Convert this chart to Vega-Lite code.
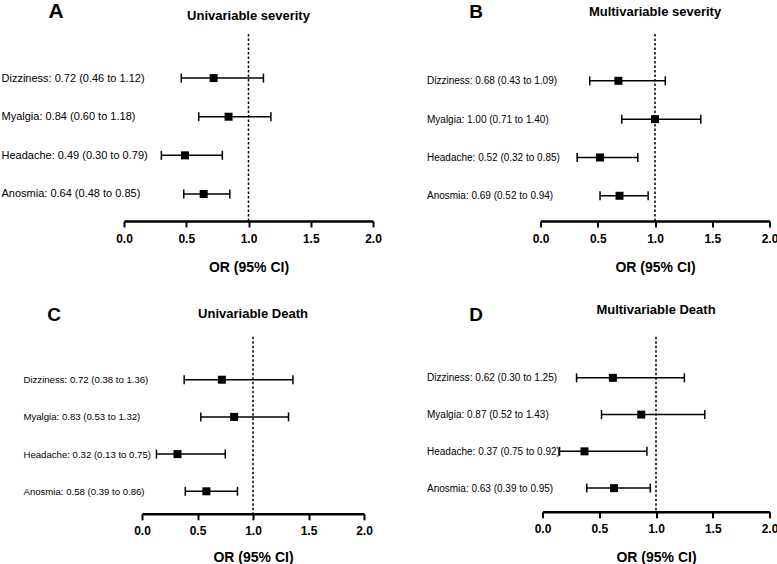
{
  "$schema": "https://vega.github.io/schema/vega-lite/v6.json",
  "padding": {"left": 1, "top": 0, "right": 0, "bottom": 0},
  "background": "white",
  "datasets": {
    "A": [
      {"label": "Dizziness: 0.72 (0.46 to 1.12)", "or": 0.72, "lo": 0.46, "hi": 1.12},
      {"label": "Myalgia: 0.84 (0.60 to 1.18)", "or": 0.84, "lo": 0.60, "hi": 1.18},
      {"label": "Headache: 0.49 (0.30 to 0.79)", "or": 0.49, "lo": 0.30, "hi": 0.79},
      {"label": "Anosmia: 0.64 (0.48 to 0.85)", "or": 0.64, "lo": 0.48, "hi": 0.85}
    ],
    "B": [
      {"label": "Dizziness: 0.68 (0.43 to 1.09)", "or": 0.68, "lo": 0.43, "hi": 1.09},
      {"label": "Myalgia: 1.00 (0.71 to 1.40)", "or": 1.00, "lo": 0.71, "hi": 1.40},
      {"label": "Headache: 0.52 (0.32 to 0.85)", "or": 0.52, "lo": 0.32, "hi": 0.85},
      {"label": "Anosmia: 0.69 (0.52 to 0.94)", "or": 0.69, "lo": 0.52, "hi": 0.94}
    ],
    "C": [
      {"label": "Dizziness: 0.72 (0.38 to 1.36)", "or": 0.72, "lo": 0.38, "hi": 1.36},
      {"label": "Myalgia: 0.83 (0.53 to 1.32)", "or": 0.83, "lo": 0.53, "hi": 1.32},
      {"label": "Headache: 0.32 (0.13 to 0.75)", "or": 0.32, "lo": 0.13, "hi": 0.75},
      {"label": "Anosmia: 0.58 (0.39 to 0.86)", "or": 0.58, "lo": 0.39, "hi": 0.86}
    ],
    "D": [
      {"label": "Dizziness: 0.62 (0.30 to 1.25)", "or": 0.62, "lo": 0.30, "hi": 1.25},
      {"label": "Myalgia: 0.87 (0.52 to 1.43)", "or": 0.87, "lo": 0.52, "hi": 1.43},
      {"label": "Headache: 0.37 (0.75 to 0.92)", "or": 0.37, "lo": 0.15, "hi": 0.92},
      {"label": "Anosmia: 0.63 (0.39 to 0.95)", "or": 0.63, "lo": 0.39, "hi": 0.95}
    ]
  },
  "config": {
    "view": {"stroke": null},
    "font": "Liberation Sans",
    "title": {"font": "Liberation Sans", "fontSize": 13, "fontWeight": "bold", "color": "black", "baseline": "alphabetic", "anchor": "middle", "frame": "group"},
    "axisX": {
      "grid": false,
      "domainColor": "black", "domainWidth": 2.5, "tickColor": "black", "tickWidth": 2, "tickSize": 6,
      "labelFont": "Liberation Sans", "labelFontSize": 12, "labelFontWeight": "bold", "labelColor": "black", "labelPadding": 6, "labelFlush": false,
      "titleFont": "Liberation Sans", "titleFontSize": 14, "titleFontWeight": "bold", "titleColor": "black", "titlePadding": 16
    },
    "axisY": {
      "domain": false, "ticks": false, "tickSize": 0, "grid": false,
      "labelAlign": "left", "labelBaseline": "middle", "labelColor": "black", "labelFont": "Liberation Sans", "labelLimit": 0,
      "titleAngle": 0, "titleAlign": "center", "titleBaseline": "alphabetic", "titleFont": "Liberation Sans", "titleFontWeight": "bold", "titleColor": "black"
    }
  },
  "spacing": 28.8,
  "vconcat": [
    {
      "spacing": 44.5,
      "hconcat": [
        {
          "width": 249, "height": 187,
          "title": {"text": "Univariable severity", "offset": -22.0},
          "layer": [
            {"data": {"values": [{"ref": 1}]}, "mark": {"type": "rule", "color": "black", "strokeWidth": 1.5, "strokeDash": [2.5, 2]},
             "encoding": {"x": {"field": "ref", "type": "quantitative", "title": "OR (95% CI)", "scale": {"domain": [0, 2], "nice": false, "zero": false},
               "axis": {"values": [0, 0.5, 1, 1.5, 2], "format": ".1f"}}}},
            {"data": {"name": "A"}, "mark": {"type": "rule", "color": "black", "strokeWidth": 1.5},
             "encoding": {"x": {"field": "lo", "type": "quantitative", "title": "OR (95% CI)"}, "x2": {"field": "hi"},
               "y": {"field": "label", "type": "nominal", "sort": null, "title": "A", "scale": {"type": "point", "padding": 0.92, "align": 0.62},
                 "axis": {"labelPadding": 123, "labelFontSize": 11, "titleFontSize": 21, "titleX": -68.5, "titleY": -16.5}}}},
            {"data": {"name": "A"}, "mark": {"type": "tick", "color": "black", "size": 9, "thickness": 1.5, "opacity": 1},
             "encoding": {"x": {"field": "lo", "type": "quantitative", "title": "OR (95% CI)"}, "y": {"field": "label", "type": "nominal", "sort": null, "title": "A"}}},
            {"data": {"name": "A"}, "mark": {"type": "tick", "color": "black", "size": 9, "thickness": 1.5, "opacity": 1},
             "encoding": {"x": {"field": "hi", "type": "quantitative", "title": "OR (95% CI)"}, "y": {"field": "label", "type": "nominal", "sort": null, "title": "A"}}},
            {"data": {"name": "A"}, "mark": {"type": "square", "color": "black", "size": 64, "filled": true, "opacity": 1},
             "encoding": {"x": {"field": "or", "type": "quantitative", "title": "OR (95% CI)"}, "y": {"field": "label", "type": "nominal", "sort": null, "title": "A"}}}
          ]
        },
        {
          "width": 229, "height": 187,
          "title": {"text": "Multivariable severity", "offset": -16.4},
          "layer": [
            {"data": {"values": [{"ref": 1}]}, "mark": {"type": "rule", "color": "black", "strokeWidth": 1.5, "strokeDash": [2.5, 2]},
             "encoding": {"x": {"field": "ref", "type": "quantitative", "title": "OR (95% CI)", "scale": {"domain": [0, 2], "nice": false, "zero": false},
               "axis": {"values": [0, 0.5, 1, 1.5, 2], "format": ".1f"}}}},
            {"data": {"name": "B"}, "mark": {"type": "rule", "color": "black", "strokeWidth": 1.5},
             "encoding": {"x": {"field": "lo", "type": "quantitative", "title": "OR (95% CI)"}, "x2": {"field": "hi"},
               "y": {"field": "label", "type": "nominal", "sort": null, "title": "B", "scale": {"type": "point", "padding": 0.94, "align": 0.65},
                 "axis": {"labelPadding": 114, "labelFontSize": 10, "titleFontSize": 19, "titleX": -65, "titleY": -16.5}}}},
            {"data": {"name": "B"}, "mark": {"type": "tick", "color": "black", "size": 9, "thickness": 1.5, "opacity": 1},
             "encoding": {"x": {"field": "lo", "type": "quantitative", "title": "OR (95% CI)"}, "y": {"field": "label", "type": "nominal", "sort": null, "title": "B"}}},
            {"data": {"name": "B"}, "mark": {"type": "tick", "color": "black", "size": 9, "thickness": 1.5, "opacity": 1},
             "encoding": {"x": {"field": "hi", "type": "quantitative", "title": "OR (95% CI)"}, "y": {"field": "label", "type": "nominal", "sort": null, "title": "B"}}},
            {"data": {"name": "B"}, "mark": {"type": "square", "color": "black", "size": 64, "filled": true, "opacity": 1},
             "encoding": {"x": {"field": "or", "type": "quantitative", "title": "OR (95% CI)"}, "y": {"field": "label", "type": "nominal", "sort": null, "title": "B"}}}
          ]
        }
      ]
    },
    {
      "spacing": 53.5,
      "hconcat": [
        {
          "width": 240, "height": 177,
          "title": {"text": "Univariable Death", "offset": -15.9, "dx": 9},
          "layer": [
            {"data": {"values": [{"ref": 1}]}, "mark": {"type": "rule", "color": "black", "strokeWidth": 1.5, "strokeDash": [2.5, 2]},
             "encoding": {"x": {"field": "ref", "type": "quantitative", "title": "OR (95% CI)", "scale": {"domain": [0, 2], "range": [18, 240], "nice": false, "zero": false},
               "axis": {"values": [0, 0.5, 1, 1.5, 2], "format": ".1f", "titlePadding": 14}}}},
            {"data": {"name": "C"}, "mark": {"type": "rule", "color": "black", "strokeWidth": 1.5},
             "encoding": {"x": {"field": "lo", "type": "quantitative", "title": "OR (95% CI)"}, "x2": {"field": "hi"},
               "y": {"field": "label", "type": "nominal", "sort": null, "title": "C", "scale": {"type": "point", "padding": 0.88, "align": 0.656},
                 "axis": {"labelPadding": 101, "labelFontSize": 9.6, "titleFontSize": 19, "titleX": -70.5, "titleY": -16.5}}}},
            {"data": {"name": "C"}, "mark": {"type": "tick", "color": "black", "size": 9, "thickness": 1.5, "opacity": 1},
             "encoding": {"x": {"field": "lo", "type": "quantitative", "title": "OR (95% CI)"}, "y": {"field": "label", "type": "nominal", "sort": null, "title": "C"}}},
            {"data": {"name": "C"}, "mark": {"type": "tick", "color": "black", "size": 9, "thickness": 1.5, "opacity": 1},
             "encoding": {"x": {"field": "hi", "type": "quantitative", "title": "OR (95% CI)"}, "y": {"field": "label", "type": "nominal", "sort": null, "title": "C"}}},
            {"data": {"name": "C"}, "mark": {"type": "square", "color": "black", "size": 64, "filled": true, "opacity": 1},
             "encoding": {"x": {"field": "or", "type": "quantitative", "title": "OR (95% CI)"}, "y": {"field": "label", "type": "nominal", "sort": null, "title": "C"}}}
          ]
        },
        {
          "width": 227, "height": 175,
          "title": {"text": "Multivariable Death", "offset": -10.9},
          "layer": [
            {"data": {"values": [{"ref": 1}]}, "mark": {"type": "rule", "color": "black", "strokeWidth": 1.5, "strokeDash": [2.5, 2]},
             "encoding": {"x": {"field": "ref", "type": "quantitative", "title": "OR (95% CI)", "scale": {"domain": [0, 2], "nice": false, "zero": false},
               "axis": {"values": [0, 0.5, 1, 1.5, 2], "format": ".1f"}}}},
            {"data": {"name": "D"}, "mark": {"type": "rule", "color": "black", "strokeWidth": 1.5},
             "encoding": {"x": {"field": "lo", "type": "quantitative", "title": "OR (95% CI)"}, "x2": {"field": "hi"},
               "y": {"field": "label", "type": "nominal", "sort": null, "title": "D", "scale": {"type": "point", "padding": 0.88, "align": 0.634},
                 "axis": {"labelPadding": 116, "labelFontSize": 10, "titleFontSize": 19, "titleX": -67, "titleY": -16}}}},
            {"data": {"name": "D"}, "mark": {"type": "tick", "color": "black", "size": 9, "thickness": 1.5, "opacity": 1},
             "encoding": {"x": {"field": "lo", "type": "quantitative", "title": "OR (95% CI)"}, "y": {"field": "label", "type": "nominal", "sort": null, "title": "D"}}},
            {"data": {"name": "D"}, "mark": {"type": "tick", "color": "black", "size": 9, "thickness": 1.5, "opacity": 1},
             "encoding": {"x": {"field": "hi", "type": "quantitative", "title": "OR (95% CI)"}, "y": {"field": "label", "type": "nominal", "sort": null, "title": "D"}}},
            {"data": {"name": "D"}, "mark": {"type": "square", "color": "black", "size": 64, "filled": true, "opacity": 1},
             "encoding": {"x": {"field": "or", "type": "quantitative", "title": "OR (95% CI)"}, "y": {"field": "label", "type": "nominal", "sort": null, "title": "D"}}}
          ]
        }
      ]
    }
  ]
}
